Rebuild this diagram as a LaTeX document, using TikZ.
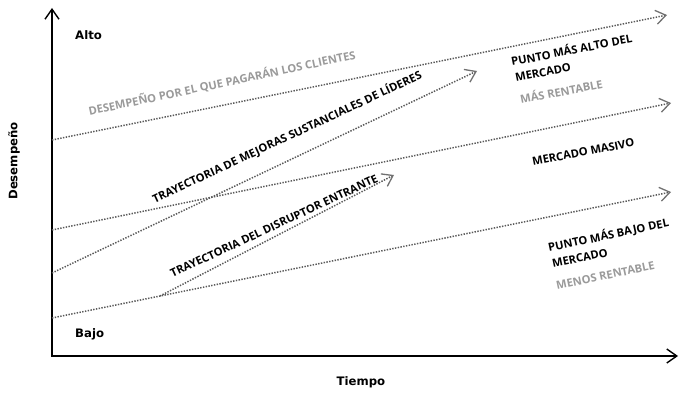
\documentclass[tikz,border=0pt]{standalone}
\usepackage{fontspec}
\setmainfont{Open Sans}
\newfontfamily\axisfont{DejaVu Sans}
\usetikzlibrary{arrows.meta}
\definecolor{dotgray}{HTML}{5A5A5A}
\definecolor{tipgray}{HTML}{707070}
\definecolor{txtgray}{HTML}{9A9A9A}
\begin{document}
\begin{tikzpicture}[x=1pt,y=-1pt,
  axis/.style={line width=1.5pt,{Straight Barb[length=10pt,width=14pt,line width=1.4pt]}-{Straight Barb[length=10pt,width=14pt,line width=1.4pt]}},
  trend/.style={draw=dotgray,line width=1.5pt,dash pattern=on 1.4pt off 1.4pt,-{Straight Barb[length=10pt,width=14pt,line width=1.3pt,color=tipgray]}},
  lbl/.style={font=\bfseries\fontsize{11.2}{13}\selectfont,inner sep=0pt},
  glbl/.style={lbl,text=txtgray},
  albl/.style={font=\axisfont\bfseries\fontsize{11.7}{14}\selectfont,inner sep=0pt},
]
\useasboundingbox (0,0) rectangle (679,393);
% axes
\coordinate (ytop) at (52,8);
\coordinate (o) at (52,356);
\coordinate (xend) at (678,356);
\draw[axis] (ytop) -- (o) -- (xend);
% trend lines
\coordinate (a1) at (52,140); \coordinate (b1) at (667,15);
\coordinate (a2) at (52,230); \coordinate (b2) at (671,103);
\coordinate (a3) at (52,273); \coordinate (b3) at (477,71);
\coordinate (a4) at (52,318); \coordinate (b4) at (671,192);
\coordinate (a5) at (160,296); \coordinate (b5) at (394,175);
\draw[trend] (a1) -- (b1);
\draw[trend] (a2) -- (b2);
\draw[trend] (a3) -- (b3);
\draw[trend] (a4) -- (b4);
\draw[trend] (a5) -- (b5);
% axis labels
\node[albl,anchor=base west] (alto) at (75,40) {Alto};
\node[albl,anchor=base west] (bajo) at (75,337) {Bajo};
\node[albl,rotate=90] (desemp) at (14,161) {Desempeño};
\node[albl] (tiempo) at (361,382) {Tiempo};
% line labels
\node[glbl,rotate=12] (pagar) at (222,83) {DESEMPEÑO POR EL QUE PAGARÁN LOS CLIENTES};
\node[lbl,rotate=25] (lideres) at (287,137) {TRAYECTORIA DE MEJORAS SUSTANCIALES DE LÍDERES};
\node[lbl,rotate=25] (disr) at (274,226) {TRAYECTORIA DEL DISRUPTOR ENTRANTE};
% market labels
\node[lbl,anchor=base west,rotate=11] (alto1) at (512,66) {PUNTO MÁS ALTO DEL};
\node[lbl,anchor=base west,rotate=11] (alto2) at (516,82) {MERCADO};
\node[glbl,anchor=base west,rotate=11] (alto3) at (521,104) {MÁS RENTABLE};
\node[lbl,anchor=base west,rotate=11] (masivo) at (533,166) {MERCADO MASIVO};
\node[lbl,anchor=base west,rotate=12] (bajo1) at (549,252) {PUNTO MÁS BAJO DEL};
\node[lbl,anchor=base west,rotate=12] (bajo2) at (553,268) {MERCADO};
\node[glbl,anchor=base west,rotate=12] (bajo3) at (557,290) {MENOS RENTABLE};
\end{tikzpicture}
\end{document}
